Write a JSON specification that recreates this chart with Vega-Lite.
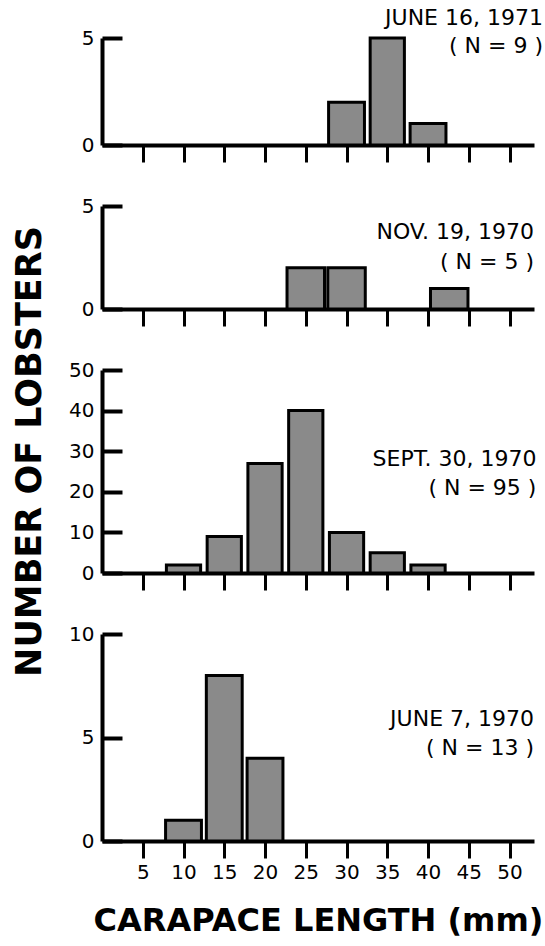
{
  "$schema": "https://vega.github.io/schema/vega-lite/v6.json",
  "padding": {"left": 12, "top": 6, "right": 0, "bottom": 5},
  "bounds": "flush",
  "spacing": 61,
  "config": {
    "view": {"stroke": null},
    "font": "DejaVu Sans",
    "axis": {
      "grid": false,
      "domainColor": "black",
      "domainWidth": 4,
      "tickColor": "black",
      "labelColor": "black",
      "titleColor": "black",
      "labelFont": "DejaVu Sans",
      "titleFont": "DejaVu Sans"
    },
    "text": {"font": "DejaVu Sans", "color": "black"}
  },
  "vconcat": [
    {
      "width": 432,
      "height": 107,
      "layer": [
        {
          "data": {"values": [
            {"lo": 27.8, "hi": 32.2, "count": 2},
            {"lo": 32.9, "hi": 37.1, "count": 5},
            {"lo": 37.8, "hi": 42.2, "count": 1}
          ]},
          "mark": {"type": "rect", "fill": "#8a8a8a", "stroke": "black", "strokeWidth": 3},
          "encoding": {
            "x": {"field": "lo", "type": "quantitative", "scale": {"domain": [0, 53], "nice": false, "zero": false},
                  "axis": {"values": [5,10,15,20,25,30,35,40,45,50], "labels": false, "title": null, "tickSize": 17, "tickWidth": 3}},
            "x2": {"field": "hi"},
            "y": {"field": "count", "type": "quantitative", "scale": {"domain": [0, 5], "nice": false},
                  "axis": {"values": [0, 5], "title": null, "tickSize": -20, "tickWidth": 4, "labelFontSize": 20, "labelPadding": 28}},
            "y2": {"datum": 0}
          }
        },
        {
          "data": {"values": [{"label": "JUNE 16, 1971\n( N = 9 )"}]},
          "mark": {"type": "text", "align": "right", "baseline": "middle", "fontSize": 22, "lineHeight": 28, "lineBreak": "\n"},
          "encoding": {
            "x": {"datum": 54.1, "type": "quantitative"},
            "y": {"datum": 5.94, "type": "quantitative"},
            "text": {"field": "label", "type": "nominal"}
          }
        }
      ]
    },
    {
      "width": 432,
      "height": 103,
      "layer": [
        {
          "data": {"values": [
            {"lo": 22.7, "hi": 27.3, "count": 2},
            {"lo": 27.7, "hi": 32.3, "count": 2},
            {"lo": 40.3, "hi": 44.9, "count": 1}
          ]},
          "mark": {"type": "rect", "fill": "#8a8a8a", "stroke": "black", "strokeWidth": 3},
          "encoding": {
            "x": {"field": "lo", "type": "quantitative", "scale": {"domain": [0, 53], "nice": false, "zero": false},
                  "axis": {"values": [5,10,15,20,25,30,35,40,45,50], "labels": false, "title": null, "tickSize": 17, "tickWidth": 3}},
            "x2": {"field": "hi"},
            "y": {"field": "count", "type": "quantitative", "scale": {"domain": [0, 5], "nice": false},
                  "axis": {"values": [0, 5], "title": null, "tickSize": -20, "tickWidth": 4, "labelFontSize": 20, "labelPadding": 28}},
            "y2": {"datum": 0}
          }
        },
        {
          "data": {"values": [{"label": "NOV. 19, 1970\n( N = 5 )"}]},
          "mark": {"type": "text", "align": "right", "baseline": "middle", "fontSize": 22, "lineHeight": 30, "lineBreak": "\n"},
          "encoding": {
            "x": {"datum": 53.0, "type": "quantitative"},
            "y": {"datum": 3.74, "type": "quantitative"},
            "text": {"field": "label", "type": "nominal"}
          }
        }
      ]
    },
    {
      "width": 432,
      "height": 203,
      "layer": [
        {
          "data": {"values": [
            {"lo": 7.9, "hi": 12.1, "count": 2},
            {"lo": 12.9, "hi": 17.1, "count": 9},
            {"lo": 17.9, "hi": 22.1, "count": 27},
            {"lo": 22.9, "hi": 27.1, "count": 40},
            {"lo": 27.9, "hi": 32.1, "count": 10},
            {"lo": 32.9, "hi": 37.1, "count": 5},
            {"lo": 37.9, "hi": 42.1, "count": 2}
          ]},
          "mark": {"type": "rect", "fill": "#8a8a8a", "stroke": "black", "strokeWidth": 3},
          "encoding": {
            "x": {"field": "lo", "type": "quantitative", "scale": {"domain": [0, 53], "nice": false, "zero": false},
                  "axis": {"values": [5,10,15,20,25,30,35,40,45,50], "labels": false, "title": null, "tickSize": 17, "tickWidth": 3}},
            "x2": {"field": "hi"},
            "y": {"field": "count", "type": "quantitative", "scale": {"domain": [0, 50], "nice": false},
                  "axis": {"values": [0, 10, 20, 30, 40, 50], "title": "NUMBER OF LOBSTERS", "titleFontSize": 35, "titleFontWeight": "bold", "titleY": 81, "titlePadding": 21,
                           "tickSize": -20, "tickWidth": 4, "labelFontSize": 20, "labelPadding": 28}},
            "y2": {"datum": 0}
          }
        },
        {
          "data": {"values": [{"label": "SEPT. 30, 1970\n( N = 95 )"}]},
          "mark": {"type": "text", "align": "right", "baseline": "middle", "fontSize": 22, "lineHeight": 29, "lineBreak": "\n"},
          "encoding": {
            "x": {"datum": 53.3, "type": "quantitative"},
            "y": {"datum": 28.1, "type": "quantitative"},
            "text": {"field": "label", "type": "nominal"}
          }
        }
      ]
    },
    {
      "width": 432,
      "height": 207,
      "layer": [
        {
          "data": {"values": [
            {"lo": 7.8, "hi": 12.2, "count": 1},
            {"lo": 12.8, "hi": 17.2, "count": 8},
            {"lo": 17.8, "hi": 22.2, "count": 4}
          ]},
          "mark": {"type": "rect", "fill": "#8a8a8a", "stroke": "black", "strokeWidth": 3},
          "encoding": {
            "x": {"field": "lo", "type": "quantitative", "scale": {"domain": [0, 53], "nice": false, "zero": false},
                  "axis": {"values": [5,10,15,20,25,30,35,40,45,50], "title": "CARAPACE LENGTH (mm)", "titleFontSize": 32, "titleFontWeight": "bold", "titlePadding": 23,
                           "tickSize": 17, "tickWidth": 3, "labelFontSize": 20, "labelPadding": 4}},
            "x2": {"field": "hi"},
            "y": {"field": "count", "type": "quantitative", "scale": {"domain": [0, 10], "nice": false},
                  "axis": {"values": [0, 5, 10], "title": null, "tickSize": -20, "tickWidth": 4, "labelFontSize": 20, "labelPadding": 28}},
            "y2": {"datum": 0}
          }
        },
        {
          "data": {"values": [{"label": "JUNE 7, 1970\n( N = 13 )"}]},
          "mark": {"type": "text", "align": "right", "baseline": "middle", "fontSize": 22, "lineHeight": 29, "lineBreak": "\n"},
          "encoding": {
            "x": {"datum": 53.0, "type": "quantitative"},
            "y": {"datum": 5.9, "type": "quantitative"},
            "text": {"field": "label", "type": "nominal"}
          }
        }
      ]
    }
  ]
}
